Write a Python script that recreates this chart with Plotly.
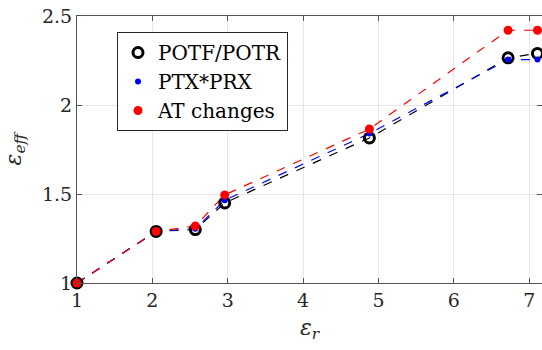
import plotly.graph_objects as go

eps_r = [1.0, 2.05, 2.57, 2.96, 4.88, 6.72, 7.11]
potf_potr = [1.0, 1.29, 1.30, 1.45, 1.815, 2.265, 2.29]
ptx_prx = [1.0, 1.29, 1.305, 1.465, 1.84, 2.255, 2.255]
at_changes = [1.0, 1.29, 1.32, 1.495, 1.865, 2.42, 2.42]

names = ["POTF/POTR", "PTX*PRX", "AT changes"]
colors = ["black", "blue", "red"]
series = [potf_potr, ptx_prx, at_changes]

fig = go.Figure()
for name, col, ys in zip(names, colors, series):
    fig.add_trace(go.Scatter(x=eps_r, y=ys, mode="lines", showlegend=False,
                             line=dict(color=col, width=1.2, dash="dash"), hoverinfo="skip"))

marker_styles = [
    dict(symbol="circle-open", size=10, color="black", line=dict(width=3, color="black")),
    dict(symbol="circle", size=6, color="blue"),
    dict(symbol="circle", size=9, color="red"),
]
for name, ys, m in zip(names, series, marker_styles):
    fig.add_trace(go.Scatter(x=eps_r, y=ys, mode="markers", name=name, marker=m, cliponaxis=False))

font = "DejaVu Serif"
fig.update_layout(
    width=542, height=350,
    margin=dict(l=77, r=0, t=16, b=67),
    paper_bgcolor="white", plot_bgcolor="white",
    font=dict(family=font, size=19, color="#262626"),
    showlegend=True,
    legend=dict(x=0.086, y=0.94, xanchor="left", yanchor="top",
                bgcolor="white", bordercolor="#262626", borderwidth=1,
                font=dict(family=font, size=20, color="black"),
                tracegroupgap=0, itemwidth=30),
    xaxis=dict(range=[1, 7.17], tickvals=[1, 2, 3, 4, 5, 6, 7], showgrid=True,
               gridcolor="#e6e6e6", gridwidth=1, zeroline=False,
               showline=True, linecolor="#555555", linewidth=1, mirror="ticks",
               ticks="inside", ticklen=5, tickcolor="#555555",
               tickfont=dict(family=font, size=19),
               title=dict(text="<i>ε<sub>r</sub></i>", font=dict(family=font, size=22), standoff=9)),
    yaxis=dict(range=[1, 2.5], tickvals=[1, 1.5, 2, 2.5], showgrid=True,
               gridcolor="#e6e6e6", gridwidth=1, zeroline=False,
               showline=True, linecolor="#555555", linewidth=1, mirror="ticks",
               ticks="inside", ticklen=5, tickcolor="#555555",
               tickfont=dict(family=font, size=19),
               title=dict(text="<i>ε<sub>eff</sub></i>", font=dict(family=font, size=22), standoff=14)),
)

fig.write_html("out.html")
